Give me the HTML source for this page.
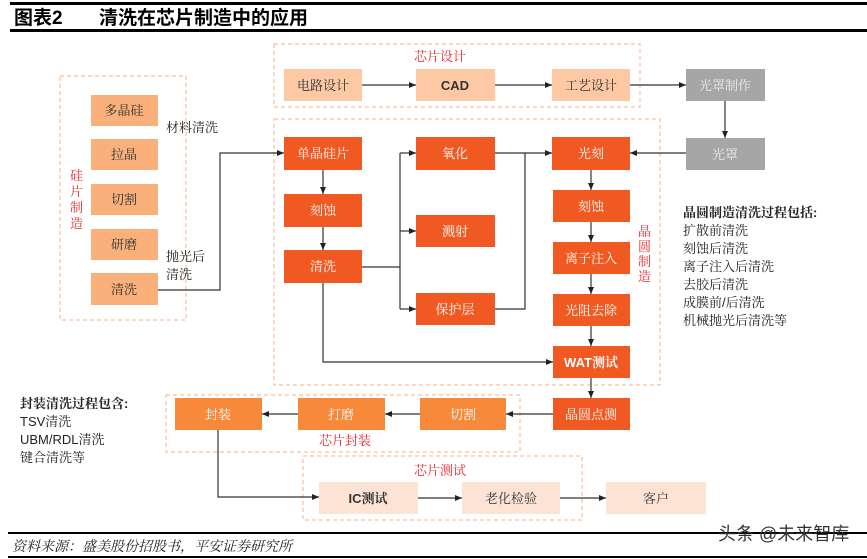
<!DOCTYPE html>
<html><head><meta charset="utf-8"><style>
html,body{margin:0;padding:0;background:#fff;}
svg{display:block;font-family:"Liberation Sans","Noto Serif CJK SC","Noto Sans CJK SC",serif;}
</style></head><body>
<svg width="867" height="559" viewBox="0 0 867 559" xmlns="http://www.w3.org/2000/svg">
<defs><marker id="a" markerWidth="8" markerHeight="8" refX="7" refY="4" orient="auto" markerUnits="userSpaceOnUse"><path d="M0,1 L7,4 L0,7 z" fill="#222"/></marker></defs>
<rect x="10" y="2" width="857" height="3" fill="#000"/>
<rect x="10" y="29" width="857" height="3" fill="#000"/>
<text x="14" y="24" font-size="19" font-weight="bold" font-family="Liberation Sans,Noto Sans CJK SC,sans-serif">图表2</text>
<text x="99" y="24" font-size="19" font-weight="bold" font-family="Liberation Sans,Noto Sans CJK SC,sans-serif">清洗在芯片制造中的应用</text>

<g fill="none" stroke="#f6b08a" stroke-dasharray="4,3" stroke-width="1">
<rect x="60" y="76" width="126" height="244"/>
<rect x="274" y="44" width="366" height="63"/>
<rect x="274" y="119" width="386" height="266"/>
<rect x="166" y="395" width="354" height="57"/>
<rect x="303" y="456" width="279" height="64"/>
</g>

<g font-size="13" text-anchor="middle" fill="#333">
<g fill="#f9b07b"><rect x="91" y="95" width="67" height="31"/><rect x="91" y="139" width="67" height="31"/><rect x="91" y="184" width="67" height="31"/><rect x="91" y="229" width="67" height="31"/><rect x="91" y="273" width="67" height="32"/></g>
<text x="124" y="115">多晶硅</text><text x="124" y="159">拉晶</text><text x="124" y="204">切割</text><text x="124" y="249">研磨</text><text x="124" y="294">清洗</text>

<g fill="#fdc9a5"><rect x="284" y="69" width="78" height="32"/><rect x="416" y="69" width="79" height="32"/><rect x="552" y="69" width="78" height="32"/></g>
<text x="323" y="90">电路设计</text><text x="455" y="90" font-weight="bold">CAD</text><text x="591" y="90">工艺设计</text>
<g fill="#a6a6a6"><rect x="686" y="69" width="79" height="32"/><rect x="686" y="138" width="79" height="32"/></g>
<text x="725" y="90" fill="#eee">光罩制作</text><text x="725" y="159" fill="#eee">光罩</text>

<g fill="#f05a22"><rect x="284" y="137" width="78" height="33"/><rect x="284" y="194" width="78" height="33"/><rect x="284" y="250" width="78" height="33"/>
<rect x="416" y="137" width="79" height="33"/><rect x="416" y="215" width="79" height="32"/><rect x="416" y="293" width="79" height="32"/>
<rect x="552" y="137" width="78" height="33"/><rect x="553" y="190" width="77" height="32"/><rect x="553" y="242" width="77" height="32"/><rect x="553" y="294" width="77" height="32"/><rect x="553" y="346" width="77" height="32"/><rect x="553" y="398" width="77" height="32"/></g>
<g fill="#fff">
<text x="323" y="158">单晶硅片</text><text x="323" y="215">刻蚀</text><text x="323" y="271">清洗</text>
<text x="455" y="158">氧化</text><text x="455" y="236">溅射</text><text x="455" y="314">保护层</text>
<text x="591" y="158">光刻</text><text x="591" y="211">刻蚀</text><text x="591" y="263">离子注入</text><text x="591" y="315">光阻去除</text><text x="591" y="367" font-weight="bold">WAT测试</text><text x="591" y="419">晶圆点测</text>
</g>

<g fill="#f7893a"><rect x="175" y="398" width="87" height="32"/><rect x="298" y="398" width="87" height="32"/><rect x="420" y="398" width="86" height="32"/></g>
<g fill="#fff"><text x="218" y="419">封装</text><text x="341" y="419">打磨</text><text x="463" y="419">切割</text></g>

<g fill="#fde3d3"><rect x="319" y="482" width="99" height="32"/><rect x="462" y="482" width="98" height="32"/><rect x="606" y="482" width="100" height="32"/></g>
<text x="368" y="503" font-weight="bold">IC测试</text><text x="511" y="503">老化检验</text><text x="656" y="503">客户</text>
</g>

<g font-size="13" fill="#e8282e">
<text x="440" y="61" text-anchor="middle">芯片设计</text>
<text x="345" y="445" text-anchor="middle">芯片封装</text>
<text x="440" y="475" text-anchor="middle">芯片测试</text>
<text x="70" y="180">硅</text><text x="70" y="196">片</text><text x="70" y="212">制</text><text x="70" y="228">造</text>
<text x="638" y="236">晶</text><text x="638" y="251">圆</text><text x="638" y="266">制</text><text x="638" y="281">造</text>
</g>

<g font-size="13" fill="#222">
<text x="166" y="132">材料清洗</text>
<text x="166" y="261">抛光后</text><text x="166" y="279">清洗</text>
<text x="683" y="217" font-weight="bold">晶圆制造清洗过程包括:</text>
<text x="683" y="235">扩散前清洗</text><text x="683" y="253">刻蚀后清洗</text><text x="683" y="271">离子注入后清洗</text><text x="683" y="289">去胶后清洗</text><text x="683" y="307">成膜前/后清洗</text><text x="683" y="325">机械抛光后清洗等</text>
<text x="20" y="408" font-weight="bold">封装清洗过程包含:</text>
<text x="20" y="426">TSV清洗</text><text x="20" y="444">UBM/RDL清洗</text><text x="20" y="462">键合清洗等</text>
</g>

<g fill="none" stroke="#333" stroke-width="1.2">
<path d="M362,85 H416" marker-end="url(#a)"/>
<path d="M495,85 H552" marker-end="url(#a)"/>
<path d="M630,85 H686" marker-end="url(#a)"/>
<path d="M725,101 V138" marker-end="url(#a)"/>
<path d="M686,153 H630" marker-end="url(#a)"/>
<path d="M158,290 H220 V153 H284" marker-end="url(#a)"/>
<path d="M323,170 V194" marker-end="url(#a)"/>
<path d="M323,227 V250" marker-end="url(#a)"/>
<path d="M362,267 H400"/>
<path d="M400,153 V309"/>
<path d="M400,153 H416" marker-end="url(#a)"/>
<path d="M400,231 H416" marker-end="url(#a)"/>
<path d="M400,309 H416" marker-end="url(#a)"/>
<path d="M495,153 H525 V309 H495"/>
<path d="M525,153 H552" marker-end="url(#a)"/>
<path d="M591,170 V190" marker-end="url(#a)"/>
<path d="M591,222 V242" marker-end="url(#a)"/>
<path d="M591,274 V294" marker-end="url(#a)"/>
<path d="M591,326 V346" marker-end="url(#a)"/>
<path d="M323,283 V362 H553" marker-end="url(#a)"/>
<path d="M591,378 V398" marker-end="url(#a)"/>
<path d="M553,414 H506" marker-end="url(#a)"/>
<path d="M420,414 H385" marker-end="url(#a)"/>
<path d="M298,414 H262" marker-end="url(#a)"/>
<path d="M218,430 V497 H319" marker-end="url(#a)"/>
<path d="M418,498 H462" marker-end="url(#a)"/>
<path d="M560,498 H606" marker-end="url(#a)"/>
</g>

<rect x="8" y="532" width="859" height="2" fill="#000"/>
<rect x="8" y="556" width="859" height="2" fill="#000"/>
<text x="12" y="551" font-size="14" font-style="italic" fill="#222">资料来源：盛美股份招股书，平安证券研究所</text>
<text x="718" y="540" font-size="18" fill="#333" font-family="Liberation Sans,Noto Sans CJK SC,sans-serif">头条 @未来智库</text>
</svg>
</body></html>
